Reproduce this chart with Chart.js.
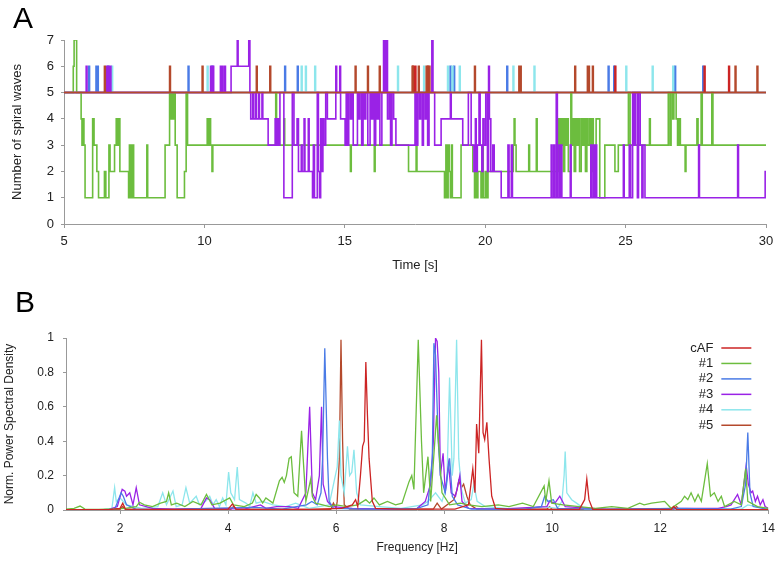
<!DOCTYPE html>
<html>
<head>
<meta charset="utf-8">
<script src="https://cdn.jsdelivr.net/npm/chart.js@4/dist/chart.umd.min.js"></script>
<style>
  body { margin: 0; background: #fff; width: 782px; height: 561px; position: relative; overflow: hidden;
         font-family: "Liberation Sans", Arial, sans-serif; }
  .panel { position: absolute; left: 0; width: 782px; }
  #wrapA { top: 0; height: 280px; }
  #wrapB { top: 280px; height: 281px; }
  .letter { position: absolute; font-size: 30px; line-height: 1; color: #000; }
</style>
</head>
<body>
<div class="panel" id="wrapA"><canvas id="chartA"></canvas></div>
<div class="panel" id="wrapB"><canvas id="chartB"></canvas></div>
<div class="letter" style="left:13px;top:3px">A</div>
<div class="letter" style="left:15px;top:287px">B</div>
<script>
// ---- panel A: number of spiral waves, [time s, count] change points ----
const wavesGreen = [[5,5],[5.33,6],[5.36,7],[5.45,5],[5.61,4],[5.64,3],[5.68,4],[5.71,3],[5.75,1],[6.02,4],[6.07,3],[6.17,2],[6.23,1],[6.44,2],[6.49,1],[6.6,3],[6.64,2],[6.8,3],[6.86,4],[6.9,3],[6.95,4],[6.99,2],[7.3,1],[7.33,3],[7.36,1],[7.39,3],[7.42,1],[7.45,3],[7.48,1],[7.95,3],[7.98,1],[8.6,3],[8.76,5],[8.8,4],[8.83,5],[8.88,4],[8.92,5],[8.96,3],[9.03,1],[9.29,2],[9.35,5],[9.4,3],[10.1,4],[10.14,3],[10.18,4],[10.22,3],[10.27,2],[10.3,3],[12.54,5],[12.57,3],[12.83,4],[12.86,3],[15.2,2],[15.23,3],[16.05,2],[16.08,3],[17.27,2],[17.54,3],[17.57,2],[18.55,1],[18.6,3],[18.63,1],[18.68,3],[18.72,2],[18.76,1],[18.8,3],[18.83,1],[19.14,3],[19.56,2],[19.62,1],[19.66,3],[19.7,1],[19.74,2],[19.85,1],[19.9,3],[19.93,1],[20.0,2],[20.05,1],[20.1,2],[21.0,3],[21.03,4],[21.06,3],[21.1,2],[21.55,3],[21.58,2],[21.82,4],[21.85,2],[22.6,4],[22.63,3],[22.66,4],[22.7,3],[22.73,4],[22.78,2],[22.83,4],[22.87,3],[22.92,4],[22.96,2],[23.05,5],[23.08,3],[23.12,4],[23.17,2],[23.22,4],[23.27,3],[23.32,4],[23.36,2],[23.42,4],[23.47,3],[23.52,4],[23.57,2],[23.62,4],[23.66,3],[23.72,4],[23.76,2],[23.8,4],[23.85,2],[23.95,4],[24.08,1],[24.26,3],[24.62,2],[24.74,3],[25.1,5],[25.16,3],[25.85,4],[25.88,3],[26.52,5],[26.58,3],[26.62,5],[26.68,4],[26.72,5],[26.8,4],[26.85,3],[26.9,4],[26.95,3],[27.12,2],[27.15,3],[27.54,4],[27.58,3],[27.69,5],[27.73,3],[28.07,5],[28.11,3],[30,3]];

const wavesPurple = [[5,5],[5.79,6],[5.82,5],[6.52,6],[6.55,5],[6.58,6],[6.61,5],[6.64,6],[6.67,5],[10.22,6],[10.25,5],[10.3,6],[10.33,5],[10.57,6],[10.6,5],[10.63,6],[10.66,5],[10.72,6],[10.75,5],[10.95,6],[11.17,7],[11.2,6],[11.58,7],[11.62,5],[11.65,4],[11.72,5],[11.75,4],[11.82,5],[11.85,4],[11.93,5],[11.96,4],[12.05,5],[12.08,4],[12.27,3],[12.52,4],[12.54,3],[12.57,4],[12.6,3],[12.63,4],[12.67,3],[12.69,5],[12.83,1],[13.13,5],[13.19,3],[13.3,4],[13.35,2],[13.45,3],[13.48,2],[13.55,4],[13.58,2],[13.7,4],[13.73,2],[13.85,1],[13.88,3],[13.92,1],[14.02,5],[14.06,2],[14.1,1],[14.14,4],[14.18,2],[14.22,4],[14.26,3],[14.32,5],[14.38,4],[14.68,6],[14.71,5],[14.82,6],[14.85,4],[15.01,3],[15.05,5],[15.1,3],[15.14,5],[15.2,4],[15.25,5],[15.3,3],[15.45,5],[15.5,4],[15.54,5],[15.6,3],[15.65,5],[15.7,4],[15.75,5],[15.82,3],[15.9,5],[15.95,4],[16.0,5],[16.05,3],[16.1,5],[16.15,4],[16.2,5],[16.25,3],[16.32,5],[16.38,7],[16.43,5],[16.48,7],[16.52,4],[16.58,5],[16.63,3],[16.68,5],[16.74,4],[16.82,3],[17.5,5],[17.55,3],[17.6,5],[17.66,4],[17.7,5],[17.76,3],[17.8,5],[17.86,4],[17.9,5],[17.95,3],[18.0,5],[18.1,7],[18.14,5],[18.2,3],[18.43,4],[18.76,5],[18.79,4],[19.2,3],[19.4,5],[19.5,3],[19.6,2],[19.65,4],[19.68,2],[19.72,3],[19.78,5],[19.82,3],[19.88,2],[19.92,4],[19.96,3],[20.02,5],[20.08,2],[20.12,6],[20.15,4],[20.2,2],[20.27,3],[20.32,2],[20.57,1],[20.81,3],[20.85,1],[20.93,3],[20.97,1],[22.35,3],[22.38,1],[22.44,3],[22.47,1],[22.53,5],[22.57,1],[22.63,3],[22.66,1],[22.7,3],[22.73,1],[23.03,3],[23.06,1],[23.76,3],[23.8,1],[23.86,3],[23.9,1],[23.94,3],[23.97,1],[24.92,3],[24.95,1],[25.13,3],[25.18,1],[25.25,5],[25.3,3],[25.35,5],[25.42,1],[25.46,5],[25.52,3],[25.58,1],[25.62,3],[25.69,1],[27.6,3],[27.63,1],[28.99,3],[29.02,1],[29.97,2],[30,2]];

// series sitting at 5 with short jumps to 6 at these times
const spikesRed = [17.42, 17.5, 17.95, 24.62, 27.8, 28.67];
const spikesBlue = [5.88, 6.14, 6.19, 6.56, 9.42, 10.27, 12.86, 13.31, 18.75, 18.88, 20.77, 24.38, 24.58, 26.75, 27.75];
const spikesCyan = [6.7, 10.1, 13.45, 13.6, 13.93, 16.88, 17.81, 18.66, 18.82, 19.08, 20.99, 21.74, 25.01, 25.95, 26.68];
const spikesBrown = [6.44, 8.76, 9.92, 11.85, 12.33, 15.37, 15.81, 16.23, 17.4, 17.62, 17.9, 18.0, 19.62, 21.2, 21.25, 23.19, 23.64, 23.68, 23.82, 28.9, 29.68];

const timeTicks = [5, 10, 15, 20, 25, 30];

// ---- panel B: normalised PSD, [frequency Hz, value] ----
const psdCAF = [[1.0,0.002],[1.8,0.002],[2.0,0.01],[2.05,0.04],[2.1,0.005],[3.0,0.003],[4.0,0.005],[4.08,0.035],[4.15,0.003],[5.5,0.003],[6.1,0.01],[6.3,0.03],[6.36,0.06],[6.4,0.02],[6.45,0.2],[6.49,0.37],[6.52,0.4],[6.55,0.86],[6.58,0.55],[6.61,0.3],[6.67,0.05],[6.73,0.01],[7.2,0.005],[8.2,0.005],[8.45,0.03],[8.53,0.24],[8.57,0.1],[8.6,0.5],[8.64,0.33],[8.69,0.99],[8.72,0.45],[8.75,0.41],[8.79,0.51],[8.83,0.3],[8.88,0.08],[8.95,0.01],[9.2,0.003],[10.5,0.003],[10.6,0.06],[10.64,0.18],[10.68,0.06],[10.75,0.003],[12.2,0.003],[12.25,0.02],[12.3,0.003],[14.0,0.002]];
const psd1 = [[1.0,0.005],[1.15,0.01],[1.26,0.023],[1.35,0.005],[1.6,0.004],[1.9,0.006],[2.1,0.01],[2.3,0.02],[2.36,0.045],[2.45,0.03],[2.6,0.02],[2.75,0.04],[2.86,0.05],[2.9,0.1],[2.95,0.03],[3.05,0.04],[3.2,0.02],[3.35,0.05],[3.5,0.03],[3.6,0.09],[3.7,0.03],[3.85,0.04],[4.03,0.07],[4.1,0.03],[4.3,0.02],[4.45,0.04],[4.52,0.09],[4.58,0.07],[4.64,0.04],[4.7,0.07],[4.83,0.04],[4.95,0.17],[5.0,0.19],[5.04,0.16],[5.08,0.2],[5.13,0.3],[5.17,0.31],[5.22,0.1],[5.29,0.08],[5.33,0.3],[5.36,0.46],[5.39,0.3],[5.44,0.05],[5.53,0.18],[5.56,0.08],[5.62,0.04],[5.75,0.03],[5.87,0.02],[6.0,0.03],[6.2,0.02],[6.4,0.03],[6.55,0.06],[6.62,0.04],[6.7,0.07],[6.8,0.03],[6.95,0.05],[7.1,0.03],[7.22,0.04],[7.35,0.165],[7.4,0.2],[7.44,0.12],[7.52,0.99],[7.58,0.4],[7.62,0.1],[7.7,0.31],[7.75,0.05],[7.86,0.55],[7.96,0.1],[8.1,0.03],[8.3,0.04],[8.45,0.03],[8.7,0.02],[9.0,0.03],[9.2,0.02],[9.45,0.04],[9.65,0.02],[9.85,0.14],[9.88,0.05],[9.94,0.17],[9.99,0.04],[10.2,0.03],[10.5,0.02],[10.8,0.01],[11.1,0.02],[11.4,0.01],[11.62,0.04],[11.7,0.03],[11.84,0.04],[12.08,0.05],[12.2,0.01],[12.39,0.05],[12.45,0.08],[12.51,0.06],[12.57,0.1],[12.64,0.05],[12.7,0.09],[12.76,0.05],[12.87,0.27],[12.93,0.08],[13.0,0.1],[13.07,0.05],[13.13,0.08],[13.19,0.02],[13.37,0.05],[13.5,0.03],[13.58,0.24],[13.62,0.05],[13.8,0.02],[14.0,0.01]];
const psd2 = [[1.0,0.002],[1.9,0.003],[1.97,0.06],[2.02,0.1],[2.06,0.08],[2.12,0.03],[2.3,0.004],[3.0,0.003],[3.6,0.01],[4.5,0.015],[5.0,0.005],[5.45,0.03],[5.55,0.05],[5.65,0.03],[5.72,0.1],[5.75,0.3],[5.79,0.94],[5.84,0.3],[5.87,0.05],[5.95,0.01],[6.5,0.005],[7.5,0.01],[7.7,0.03],[7.78,0.3],[7.81,0.97],[7.84,0.9],[7.89,0.4],[7.93,0.2],[8.02,0.1],[8.1,0.3],[8.15,0.08],[8.25,0.03],[8.5,0.005],[9.5,0.005],[9.8,0.02],[9.86,0.08],[9.92,0.05],[10.02,0.06],[10.1,0.01],[11.0,0.003],[12.3,0.01],[13.3,0.005],[13.5,0.02],[13.58,0.15],[13.62,0.45],[13.66,0.1],[13.72,0.02],[14.0,0.003]];
const psd3 = [[1.0,0.002],[1.8,0.003],[1.95,0.02],[2.04,0.12],[2.09,0.11],[2.12,0.08],[2.18,0.1],[2.24,0.03],[2.3,0.13],[2.36,0.03],[2.6,0.01],[3.0,0.005],[3.5,0.01],[3.6,0.07],[3.66,0.06],[3.75,0.01],[4.3,0.005],[4.6,0.03],[4.7,0.01],[4.9,0.02],[5.13,0.02],[5.3,0.01],[5.44,0.1],[5.51,0.6],[5.56,0.1],[5.62,0.06],[5.69,0.2],[5.73,0.6],[5.76,0.15],[5.84,0.05],[5.93,0.02],[6.3,0.01],[7.0,0.005],[7.5,0.01],[7.65,0.05],[7.75,0.15],[7.8,0.4],[7.84,1.0],[7.87,0.98],[7.9,0.8],[7.93,0.2],[7.98,0.33],[8.02,0.1],[8.08,0.27],[8.13,0.1],[8.21,0.08],[8.29,0.2],[8.33,0.05],[8.45,0.01],[9.0,0.005],[9.9,0.02],[9.95,0.05],[10.05,0.04],[10.14,0.08],[10.24,0.02],[11.0,0.003],[12.5,0.01],[13.07,0.01],[13.22,0.02],[13.31,0.03],[13.43,0.09],[13.5,0.03],[13.59,0.26],[13.63,0.15],[13.68,0.1],[13.71,0.11],[13.76,0.05],[13.8,0.08],[13.85,0.03],[13.9,0.06],[13.94,0.02],[14.0,0.01]];
const psd4 = [[1.0,0.002],[1.7,0.003],[1.85,0.01],[1.9,0.13],[1.93,0.05],[2.0,0.07],[2.12,0.03],[2.4,0.01],[2.7,0.02],[2.79,0.1],[2.86,0.03],[2.98,0.11],[3.04,0.02],[3.15,0.03],[3.22,0.13],[3.29,0.04],[3.41,0.08],[3.47,0.03],[3.58,0.05],[3.66,0.08],[3.72,0.03],[3.78,0.06],[3.84,0.02],[3.9,0.07],[3.96,0.03],[4.01,0.22],[4.05,0.1],[4.12,0.06],[4.17,0.25],[4.21,0.06],[4.33,0.04],[4.4,0.02],[4.46,0.1],[4.52,0.04],[4.64,0.05],[4.83,0.03],[5.07,0.02],[5.25,0.04],[5.5,0.01],[5.87,0.03],[6.02,0.25],[6.06,0.52],[6.09,0.2],[6.15,0.1],[6.21,0.37],[6.25,0.2],[6.29,0.22],[6.33,0.35],[6.38,0.1],[6.45,0.03],[6.8,0.02],[7.2,0.01],[7.6,0.03],[7.7,0.05],[7.84,0.1],[7.96,0.05],[8.05,0.15],[8.1,0.77],[8.15,0.2],[8.18,0.3],[8.23,0.99],[8.27,0.3],[8.32,0.12],[8.39,0.04],[8.5,0.06],[8.55,0.15],[8.61,0.05],[8.76,0.02],[9.3,0.005],[9.84,0.02],[10.1,0.01],[10.18,0.05],[10.22,0.2],[10.24,0.34],[10.27,0.1],[10.36,0.06],[10.45,0.04],[10.6,0.005],[12.27,0.01],[13.5,0.005],[13.62,0.03],[14.0,0.003]];
const psd5 = [[1.0,0.002],[2.0,0.003],[2.05,0.02],[2.1,0.003],[4.05,0.003],[4.1,0.02],[4.15,0.003],[5.9,0.003],[5.95,0.04],[6.0,0.01],[6.02,0.05],[6.06,0.3],[6.09,0.99],[6.12,0.4],[6.15,0.03],[6.25,0.005],[7.8,0.005],[7.87,0.04],[7.95,0.005],[8.18,0.06],[8.24,0.12],[8.27,0.17],[8.32,0.13],[8.36,0.15],[8.42,0.08],[8.48,0.03],[8.6,0.005],[9.9,0.005],[9.95,0.02],[10.0,0.003],[12.25,0.003],[12.3,0.02],[12.35,0.003],[14.0,0.002]];

const freqTicks = [2, 4, 6, 8, 10, 12, 14];
const psdTicks = [0, 0.2, 0.4, 0.6, 0.8, 1];
const psdTickLabels = ['0', '0.2', '0.4', '0.6', '0.8', '1'];
const seriesLabels = ['cAF', '#1', '#2', '#3', '#4', '#5'];
const seriesColors = ['#cc2424', '#6cbd3e', '#4a7be6', '#9a22e6', '#8de6ec', '#b4492c'];

const FONT = '"Liberation Sans", Arial, sans-serif';
const SPIKE = 0.03;

function toPoints(pairs) {
  return pairs.map(p => ({x: p[0], y: p[1]}));
}
function spikePoints(times) {
  const pts = [{x: 5, y: 5}];
  times.forEach(t => { pts.push({x: t, y: 6}); pts.push({x: t + SPIKE, y: 5}); });
  pts.push({x: 30, y: 5});
  return pts;
}
function stepSet(data, color, order) {
  return { data: data, borderColor: color, borderWidth: 1.6, stepped: true,
           pointRadius: 0, fill: false, order: order };
}

function axisStyle(size) {
  return { color: '#222', font: { family: FONT, size: size } };
}

new Chart(document.getElementById('chartA'), {
  type: 'line',
  data: {
    datasets: [
      stepSet(spikePoints(spikesBrown), seriesColors[5], 0),
      stepSet(toPoints(wavesPurple), seriesColors[3], 1),
      stepSet(toPoints(wavesGreen), seriesColors[1], 2),
      stepSet(spikePoints(spikesRed), seriesColors[0], 3),
      stepSet(spikePoints(spikesCyan), seriesColors[4], 4),
      stepSet(spikePoints(spikesBlue), seriesColors[2], 5)
    ]
  },
  options: {
    responsive: true,
    maintainAspectRatio: false,
    animation: false,
    layout: { padding: { top: 40, right: 16, left: 0, bottom: 0 } },
    plugins: { legend: { display: false }, tooltip: { enabled: false } },
    scales: {
      x: {
        type: 'linear', min: 5, max: 30,
        afterBuildTicks: s => { s.ticks = timeTicks.map(v => ({value: v})); },
        afterFit: s => { s.height = 56; },
        ticks: Object.assign({ padding: 6, maxRotation: 0 }, axisStyle(13)),
        grid: { drawOnChartArea: false, tickLength: 4, color: '#999' },
        border: { color: '#999' },
        title: { display: true, text: 'Time [s]', color: '#222', font: { family: FONT, size: 13 },
                 padding: { top: 0, bottom: 7 } }
      },
      y: {
        min: 0, max: 7,
        afterFit: s => { s.width = 64; },
        ticks: Object.assign({ stepSize: 1, padding: 7 }, axisStyle(13)),
        grid: { drawOnChartArea: false, tickLength: 3, color: '#999' },
        border: { color: '#999' },
        title: { display: true, text: 'Number of spiral waves', color: '#222', font: { family: FONT, size: 13 },
                 padding: { top: 10, bottom: 0 } }
      }
    }
  }
});

const legendLines = {
  id: 'legendLines',
  afterDraw(chart) {
    const {ctx, chartArea} = chart;
    ctx.save();
    ctx.font = '13px ' + FONT;
    ctx.textAlign = 'right';
    ctx.textBaseline = 'middle';
    chart.data.datasets.forEach((ds, i) => {
      const y = chartArea.top + 10 + i * 15.45;
      ctx.fillStyle = '#222';
      ctx.fillText(ds.label, chartArea.right - 55, y);
      ctx.strokeStyle = ds.borderColor;
      ctx.lineWidth = 1.5;
      ctx.beginPath();
      ctx.moveTo(chartArea.right - 47, y);
      ctx.lineTo(chartArea.right - 17, y);
      ctx.stroke();
    });
    ctx.restore();
  }
};

const psdSeries = [psdCAF, psd1, psd2, psd3, psd4, psd5];

new Chart(document.getElementById('chartB'), {
  type: 'line',
  data: {
    datasets: psdSeries.map((s, i) => ({
      label: seriesLabels[i],
      data: toPoints(s),
      borderColor: seriesColors[i],
      borderWidth: 1.3,
      pointRadius: 0,
      fill: false,
      tension: 0
    }))
  },
  options: {
    responsive: true,
    maintainAspectRatio: false,
    animation: false,
    layout: { padding: { top: 58, right: 12, left: 0, bottom: 0 } },
    plugins: { legend: { display: false }, tooltip: { enabled: false } },
    scales: {
      x: {
        type: 'linear', min: 1, max: 14,
        afterBuildTicks: s => { s.ticks = freqTicks.map(v => ({value: v})); },
        afterFit: s => { s.height = 51; },
        ticks: Object.assign({ padding: 7, maxRotation: 0 }, axisStyle(12)),
        grid: { drawOnChartArea: false, tickLength: 4, color: '#999' },
        border: { color: '#999' },
        title: { display: true, text: 'Frequency [Hz]', color: '#222', font: { family: FONT, size: 12 },
                 padding: { top: 0, bottom: 6 } }
      },
      y: {
        min: 0, max: 1,
        afterFit: s => { s.width = 66; },
        afterBuildTicks: s => { s.ticks = psdTicks.map(v => ({value: v})); },
        ticks: Object.assign({ padding: 9, callback: (v, i) => psdTickLabels[i] }, axisStyle(12)),
        grid: { drawOnChartArea: false, tickLength: 3, color: '#999' },
        border: { color: '#999' },
        title: { display: true, text: 'Norm. Power Spectral Density', color: '#222', font: { family: FONT, size: 12 },
                 padding: { top: 2, bottom: 0 } }
      }
    }
  },
  plugins: [legendLines]
});
</script>
</body>
</html>
